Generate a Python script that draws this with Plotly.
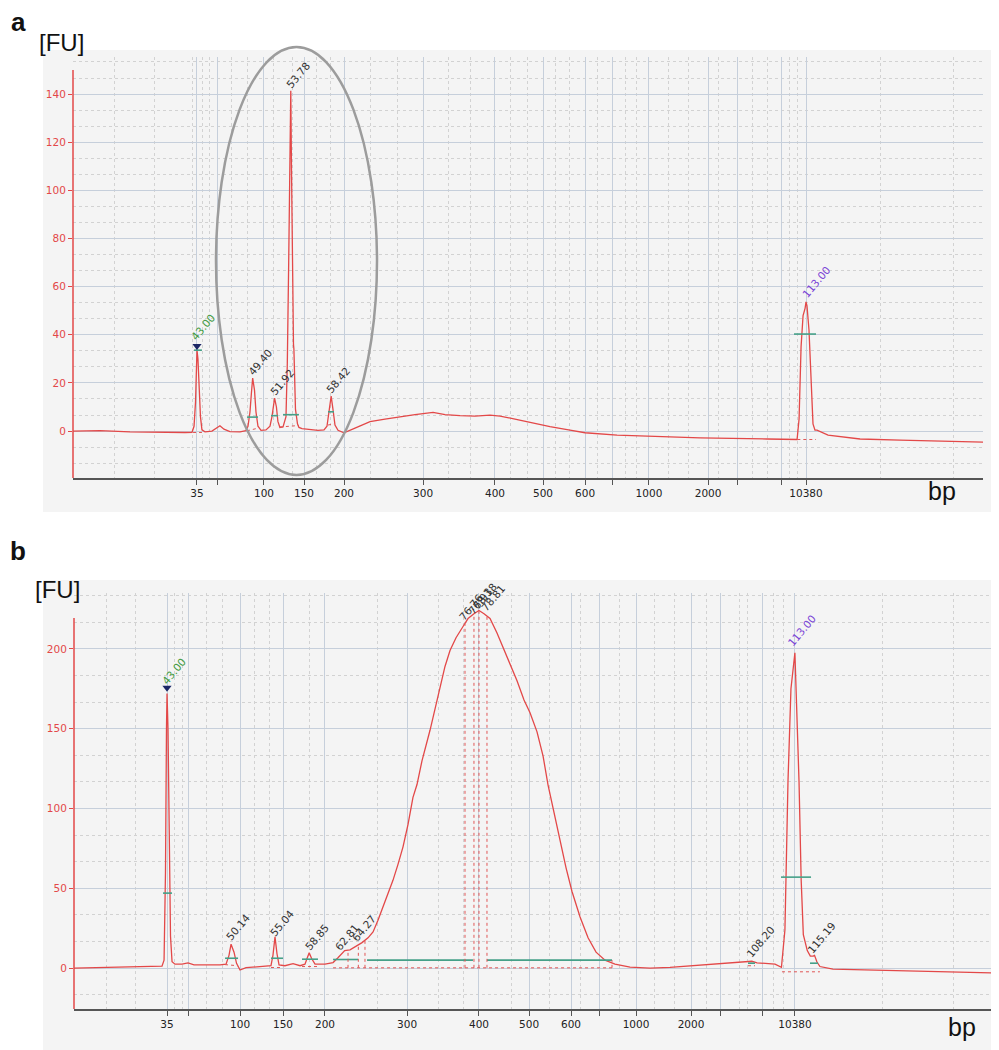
import plotly.graph_objects as go

W, H = 999, 1050
OFF = 8  # page body margin offset in the browser

# ---------------- shared ladder labels ----------------
LADDER_TEXT = ["35", "", "100", "150", "200", "300", "400", "500", "600", "", "1000", "2000", "", "", "10380"]

# ---------------- panel a data (migration time s, FU) ----------------
A_LADDER_T = [43.00, 45.30, 50.70, 55.30, 59.90, 68.98, 77.25, 82.77, 87.60, 90.70,
              94.95, 101.74, 105.07, 110.13, 113.00]
A_MINOR_T = [33.57, 38.06, 42.43, 43.69, 44.49, 47.02, 48.86, 51.74, 53.92, 56.79, 58.29,
             62.89, 65.99, 71.85, 74.38, 78.98, 80.93, 84.15, 85.87, 88.98, 92.20, 93.57,
             97.14, 99.44, 102.89, 106.79, 108.52, 111.15, 112.07, 121.51, 129.90]
A_SIGNAL = [
    (28.75, 0.0), (31.85, 0.2), (35.30, -0.3), (38.75, -0.6), (41.62, -0.6), (42.43, -0.5),
    (42.66, 2), (42.83, 12), (42.94, 28), (43.00, 33.6), (43.11, 30), (43.23, 18), (43.40, 6),
    (43.57, 0.5), (43.92, -0.3), (44.72, 0), (45.18, 1.2), (45.64, 2.2), (46.10, 0.8),
    (46.79, -0.2), (47.94, -0.3), (48.63, 0.2), (48.86, 2), (49.09, 8), (49.26, 16),
    (49.40, 22), (49.61, 17), (49.78, 8), (50.01, 2), (50.36, 0.3), (50.93, 0.5), (51.39, 2),
    (51.62, 6), (51.79, 11), (51.92, 13.7), (52.13, 10), (52.30, 4), (52.53, 1.5),
    (52.89, 1.7), (53.23, 6), (53.38, 28), (53.54, 70), (53.69, 120), (53.78, 141.4),
    (53.86, 110), (53.97, 60), (54.09, 36), (54.14, 34), (54.20, 20), (54.32, 9),
    (54.55, 3), (54.72, 1.5), (55.07, 1), (55.99, 0.5), (56.91, 0.3), (57.60, 0.5),
    (57.94, 2), (58.17, 8), (58.42, 14.5), (58.63, 9), (58.86, 2.5), (59.21, 0.3),
    (59.90, -0.7), (61.16, 1.2), (62.89, 3.9), (64.61, 5), (66.33, 6), (68.06, 6.8),
    (70.13, 7.8), (71.51, 6.8), (73.23, 6.4), (74.95, 6.2), (76.68, 6.6), (77.83, 6.2),
    (79.55, 5), (81.62, 3.3), (83.57, 1.8), (85.87, 0.4), (87.60, -0.7), (91.28, -1.7),
    (95.07, -2.1), (100.82, -2.8), (108.52, -3.3), (111.97, -3.5), (112.20, 5),
    (112.43, 35), (112.66, 48), (112.89, 51), (113.00, 53.7), (113.11, 52), (113.34, 42),
    (113.57, 20), (113.80, 3), (114.03, 0.4), (114.26, 0.4), (115.53, -1.7),
    (119.21, -3.3), (123.80, -3.8), (129.55, -4.3), (133.34, -4.6),
]
A_BARS = [(42.66, 43.57, 33.6), (48.75, 50.01, 5.8), (51.51, 52.31, 6.4),
          (52.89, 54.72, 6.8), (58.06, 58.75, 8.0), (111.62, 114.15, 40.3)]
A_BASE = [(42.55, -0.6, 43.57, -0.6), (48.75, 0.1, 50.01, 1.2), (52.53, 1.7, 54.72, 2.3),
          (58.06, 2.5, 58.75, 3.0), (112.0, -3.5, 114.15, -3.5)]
A_MARKER = [(43.00, 35.3)]
A_LABELS = [("43.00", 43.69, 43.2, "#3f9a3f"), ("49.40", 50.24, 28.7, "#333333"),
            ("51.92", 52.77, 20.4, "#333333"), ("53.78", 54.61, 147.9, "#333333"),
            ("58.42", 59.21, 21.2, "#333333"), ("113.00", 114.15, 61.9, "#7a44d6")]

# ---------------- panel b data ----------------
B_LADDER_T = [43.00, 45.45, 51.14, 55.93, 60.61, 69.76, 77.78, 83.36, 88.04, 91.27,
              95.29, 101.42, 104.65, 109.44, 113.01]
B_MINOR_T = [36.20, 39.54, 43.78, 44.67, 47.35, 49.13, 52.70, 54.37, 58.94, 66.52, 73.32,
             76.00, 81.46, 85.59, 89.05, 93.50, 97.40, 99.63, 103.20, 106.77, 107.66,
             110.56, 111.68, 122.82, 130.63]
B_SIGNAL = [
    (32.63, 0), (35.53, 0.3), (38.88, 0.8), (41.66, 1.0), (42.44, 1.2), (42.67, 5),
    (42.83, 60), (42.94, 150), (43.00, 172), (43.11, 150), (43.22, 80), (43.39, 20),
    (43.56, 4), (43.89, 2.5), (44.67, 2.5), (45.34, 3.3), (46.01, 2.0), (47.79, 1.8),
    (48.91, 2), (49.58, 2.5), (49.91, 8), (50.14, 15), (50.47, 10), (50.75, 3),
    (51.14, -1.2), (51.81, 0.3), (53.37, 1.2), (54.59, 1.5), (54.81, 8), (55.04, 19.6),
    (55.26, 9), (55.49, 2), (56.15, 1.5), (57.05, 2.8), (57.83, 1.5), (58.38, 2.5),
    (58.61, 6), (58.85, 9.6), (59.12, 6), (59.50, 2.5), (60.61, 2.5), (61.51, 3.5),
    (62.06, 6.5), (62.81, 11), (63.40, 11.5), (64.07, 13.5), (64.74, 16), (65.41, 19),
    (65.97, 22.7), (66.52, 30), (67.08, 38), (67.64, 47), (68.19, 55), (68.75, 65),
    (69.31, 76), (69.87, 90), (70.42, 107), (70.87, 115), (71.43, 130), (72.32, 149),
    (72.88, 163), (73.43, 176), (73.99, 189), (74.55, 199), (75.22, 207), (76.00, 214),
    (76.56, 219), (77.22, 222), (77.78, 224), (78.34, 222), (79.01, 219), (79.79, 210),
    (80.46, 201), (81.24, 190), (82.02, 180), (82.80, 168), (83.47, 160), (84.25, 148),
    (84.92, 133), (85.47, 115), (86.03, 100), (86.81, 80), (87.48, 63), (88.15, 48),
    (89.05, 32), (89.94, 19), (90.83, 10), (91.83, 5), (92.94, 2.5), (94.62, 0.6),
    (96.85, 0), (99.08, 0.5), (102.43, 2), (105.77, 3.2), (107.78, 4), (108.20, 4.3),
    (108.78, 3.3), (109.67, 2.8), (110.78, 2.5), (111.50, 0.5), (111.89, 24),
    (112.23, 117), (112.56, 175), (113.00, 197.5), (113.46, 117), (113.70, 55),
    (113.94, 21), (114.38, 11), (114.72, 7.5), (115.05, 7.5), (115.19, 8), (115.45, 4),
    (115.79, 1), (117.24, -0.6), (121.37, -1.2), (124.72, -1.7), (130.29, -2.3),
    (135.42, -3),
]
B_BARS = [(42.55, 43.56, 47), (49.47, 50.92, 6.2), (54.59, 55.93, 6.2), (58.05, 59.83, 5.6),
          (61.51, 64.29, 5.4), (65.30, 77.11, 5.0), (78.67, 92.61, 5.0), (107.77, 108.55, 3.1),
          (111.45, 114.80, 57), (114.68, 115.57, 3.1)]
B_BASE = [(49.47, 2.2, 50.92, 1.5), (54.59, 0.4, 55.93, 0.4), (58.05, 1.0, 59.83, 1.0),
          (61.51, 0.2, 92.61, 0.2), (107.77, 1.5, 108.55, 1.5), (111.56, -2.3, 115.79, -2.3)]
B_VLINES = [(63.18, 0.2, 11), (64.33, 0.2, 14), (65.07, 0.2, 17), (76.22, 0.2, 216),
            (77.22, 0.2, 222), (77.78, 0.2, 224), (78.67, 0.2, 221), (92.61, 0.2, 5)]
B_MARKER = [(43.00, 175.6)]
B_LABELS = [("43.00", 43.78, 186, "#3f9a3f"), ("50.14", 50.92, 25.6, "#333333"),
            ("55.04", 55.82, 28.1, "#333333"), ("58.85", 59.72, 19.4, "#333333"),
            ("62.81", 63.07, 19.4, "#333333"), ("64.27", 64.96, 25.0, "#333333"),
            ("76.76", 76.89, 226, "#333333"), ("76.93", 77.89, 230, "#333333"),
            ("78.18", 78.45, 233, "#333333"), ("78.81", 79.34, 232, "#333333"),
            ("108.20", 109.22, 16.9, "#333333"), ("115.19", 116.02, 19.4, "#333333"),
            ("113.00", 113.79, 211.9, "#7a44d6")]

RED = "#e34848"
GREEN_BAR = "#45a088"
FONT = "DejaVu Sans"


def fx(px):
    return (px - OFF) / W


def fy(py):
    return 1 - (py - OFF) / H


fig = go.Figure()


def add_panel(sig, bars, base, vlines, marker, xa, ya):
    fig.add_trace(go.Scatter(x=[p[0] for p in sig], y=[p[1] for p in sig], mode="lines",
                             line=dict(color=RED, width=1.3), xaxis=xa, yaxis=ya,
                             showlegend=False, hoverinfo="skip"))
    bx, by = [], []
    for x0, x1, yv in bars:
        bx += [x0, x1, None]
        by += [yv, yv, None]
    fig.add_trace(go.Scatter(x=bx, y=by, mode="lines", line=dict(color=GREEN_BAR, width=1.6),
                             xaxis=xa, yaxis=ya, showlegend=False, hoverinfo="skip"))
    dx, dy = [], []
    for x0, y0, x1, y1 in base:
        dx += [x0, x1, None]
        dy += [y0, y1, None]
    for xv, y0, y1 in vlines:
        dx += [xv, xv, None]
        dy += [y0, y1, None]
    fig.add_trace(go.Scatter(x=dx, y=dy, mode="lines",
                             line=dict(color="#e05656", width=1, dash="dot"),
                             xaxis=xa, yaxis=ya, showlegend=False, hoverinfo="skip"))
    fig.add_trace(go.Scatter(x=[m[0] for m in marker], y=[m[1] for m in marker], mode="markers",
                             marker=dict(symbol="triangle-down", size=8, color="#1c2766"),
                             xaxis=xa, yaxis=ya, showlegend=False, hoverinfo="skip"))


add_panel(A_SIGNAL, A_BARS, A_BASE, [], A_MARKER, "x", "y")
add_panel(B_SIGNAL, B_BARS, B_BASE, B_VLINES, B_MARKER, "x2", "y2")

annotations = []
for txt, xv, yv, col in A_LABELS:
    annotations.append(dict(text=txt, x=xv, y=yv, xref="x", yref="y", showarrow=False,
                            textangle=-50, font=dict(family=FONT, size=10.5, color=col)))
for txt, xv, yv, col in B_LABELS:
    annotations.append(dict(text=txt, x=xv, y=yv, xref="x2", yref="y2", showarrow=False,
                            textangle=-50, font=dict(family=FONT, size=10.5, color=col)))

for txt, px, py, size, bold in [("a", 18, 22, 26, True), ("b", 18, 551, 26, True),
                                 ("[FU]", 61, 42, 24, False), ("[FU]", 57, 589, 24, False),
                                 ("bp", 942, 491, 25, False), ("bp", 962, 1027, 25, False)]:
    annotations.append(dict(text=("<b>%s</b>" % txt) if bold else txt, x=fx(px), y=fy(py),
                            xref="paper", yref="paper", showarrow=False,
                            xanchor="center", yanchor="middle",
                            font=dict(family="Liberation Sans", size=size, color="#111111")))

shapes = [
    dict(type="rect", xref="paper", yref="paper", x0=fx(43), x1=1, y0=fy(512), y1=fy(50),
         fillcolor="#f4f4f4", line=dict(width=0), layer="below"),
    dict(type="rect", xref="paper", yref="paper", x0=fx(43), x1=1, y0=0, y1=fy(580),
         fillcolor="#f4f4f4", line=dict(width=0), layer="below"),
    dict(type="line", xref="paper", yref="paper", x0=fx(73), x1=fx(73), y0=fy(478), y1=fy(70),
         line=dict(color=RED, width=1.5)),
    dict(type="line", xref="paper", yref="paper", x0=fx(74), x1=fx(74), y0=fy(1009), y1=fy(618),
         line=dict(color=RED, width=1.5)),
    dict(type="circle", xref="paper", yref="paper", x0=fx(216), x1=fx(377), y0=fy(475),
         y1=fy(47), line=dict(color="#9c9c9c", width=2.5)),
]


def xaxis_cfg(domain, rng, ladder, minor, anchor):
    return dict(domain=domain, range=rng, anchor=anchor, tickmode="array", tickvals=ladder,
                ticktext=LADDER_TEXT, showgrid=True, gridcolor="#c6cfdb", gridwidth=1.3,
                ticks="outside", ticklen=5, tickcolor="#555555", showline=True,
                linecolor="#555555", linewidth=1.5, zeroline=False,
                tickfont=dict(family=FONT, size=10.5, color="#222222"),
                minor=dict(tickmode="array", tickvals=minor, showgrid=True, gridcolor="#d2d2d2",
                           griddash="dot", gridwidth=1, ticks=""),
                fixedrange=True)


def yaxis_cfg(domain, rng, dtick, anchor):
    return dict(domain=domain, range=rng, anchor=anchor, tickmode="linear", tick0=0, dtick=dtick,
                showgrid=True, gridcolor="#c6cfdb", gridwidth=1.3, zeroline=False,
                ticks="outside", ticklen=4, tickcolor=RED, showline=False,
                tickfont=dict(family=FONT, size=10.5, color=RED),
                minor=dict(tick0=0, dtick=dtick / 3, showgrid=True, gridcolor="#d2d2d2",
                           griddash="dot", gridwidth=1, ticks=""),
                fixedrange=True)


fig.update_layout(
    width=W, height=H, autosize=False,
    margin=dict(l=0, r=0, t=0, b=0),
    paper_bgcolor="#ffffff", plot_bgcolor="#fcfcfc",
    xaxis=xaxis_cfg([fx(73), fx(983)], [28.75, 133.34], A_LADDER_T, A_MINOR_T, "y"),
    yaxis=yaxis_cfg([fy(478), fy(57)], [-19.5, 155.4], 20, "x"),
    xaxis2=xaxis_cfg([fx(74), fx(996)], [32.63, 135.42], B_LADDER_T, B_MINOR_T, "y2"),
    yaxis2=yaxis_cfg([fy(1009), fy(593)], [-25.6, 235], 50, "x2"),
    annotations=annotations, shapes=shapes, showlegend=False,
)

fig.write_html("out.html")
